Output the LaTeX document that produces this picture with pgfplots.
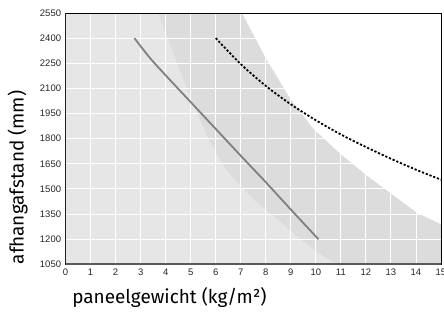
\documentclass[border=0pt]{standalone}
\usepackage{pgfplots}
\pgfplotsset{compat=1.18}
\usepackage{fontspec}
\setmainfont{Fira Sans}
\newfontfamily\tickfont{Liberation Sans}
\definecolor{bgl}{HTML}{E6E6E6}
\definecolor{band}{HTML}{DCDCDD}
\definecolor{lineg}{HTML}{808080}
\definecolor{axg}{HTML}{5A5A5A}
\begin{document}
\begin{tikzpicture}
\begin{axis}[
  set layers,
  scale only axis,
  width=375bp, height=251bp,
  xmin=0, xmax=15, ymin=1050, ymax=2550,
  xtick={0,1,...,15},
  ytick={1050,1200,...,2550},
  grid=major,
  grid style={white, line width=0.9bp},
  major tick length=0pt,
  axis line style={black, line width=0.7bp},
  axis background/.style={fill=bgl},
  /pgf/number format/assume math mode=true,
  /pgf/number format/1000 sep={},
  tick label style={font=\tickfont\fontsize{9.5}{10}\selectfont, text=black!85},
  xticklabel style={yshift=-1bp},
  yticklabel style={xshift=-1bp},
  xlabel={paneelgewicht (kg/m²)},
  ylabel={afhangafstand (mm)},
  xlabel style={at={(axis description cs:0,0)}, anchor=base west, inner sep=0pt, xshift=6.5bp, yshift=-39bp, font=\fontsize{19}{19}\selectfont},
  ylabel style={at={(axis description cs:0,0)}, anchor=west, inner sep=0pt, xshift=0bp, yshift=48bp, font=\fontsize{19}{19}\selectfont},
]
% darker band
\addplot[on layer=axis background, fill=band, draw=none] coordinates {
  (3.71,2550) (4.18,2358) (4.70,2160) (5.18,1980) (5.65,1818) (6.30,1638)
  (6.98,1518) (7.66,1416) (8.46,1320) (9.38,1200) (10.18,1110) (10.82,1050)
  (15,1050) (15,1290)
  (14.06,1356) (12.98,1476) (12.06,1578) (10.98,1710) (9.9,1860)
  (8.98,2040) (8.05,2268) (7.05,2550) (3.71,2550)
};
% white region
\addplot[on layer=axis background, fill=white, draw=none] coordinates {
  (7.05,2550) (8.05,2268) (8.98,2040) (9.9,1860) (10.98,1710) (12.06,1578)
  (12.98,1476) (14.06,1356) (15,1290) (15,2550) (7.05,2550)
};
% solid line
\addplot[lineg, line width=1.8bp, smooth, tension=0.5] coordinates {
  (2.75,2400) (3.38,2280) (4,2178) (5,2018) (6,1858) (7,1698)
  (8,1540) (9,1377) (10.1,1200)
};
% dotted line
\addplot[black, line width=1.8bp, dash pattern=on 2.2bp off 1.8bp, smooth] coordinates {
  (6,2400) (7,2245) (8,2115) (9,2005) (10,1910) (11,1825) (12,1750)
  (13,1680) (14,1615) (15,1555)
};
\draw[axg, line width=1.8bp] (rel axis cs:0,1) -- (rel axis cs:0,0) -- (rel axis cs:1,0);
\end{axis}
\pgfresetboundingbox
\path ([shift={(-65.5bp,-49bp)}]current axis.south west) rectangle ([shift={(3bp,13bp)}]current axis.north east);
\end{tikzpicture}
\end{document}
